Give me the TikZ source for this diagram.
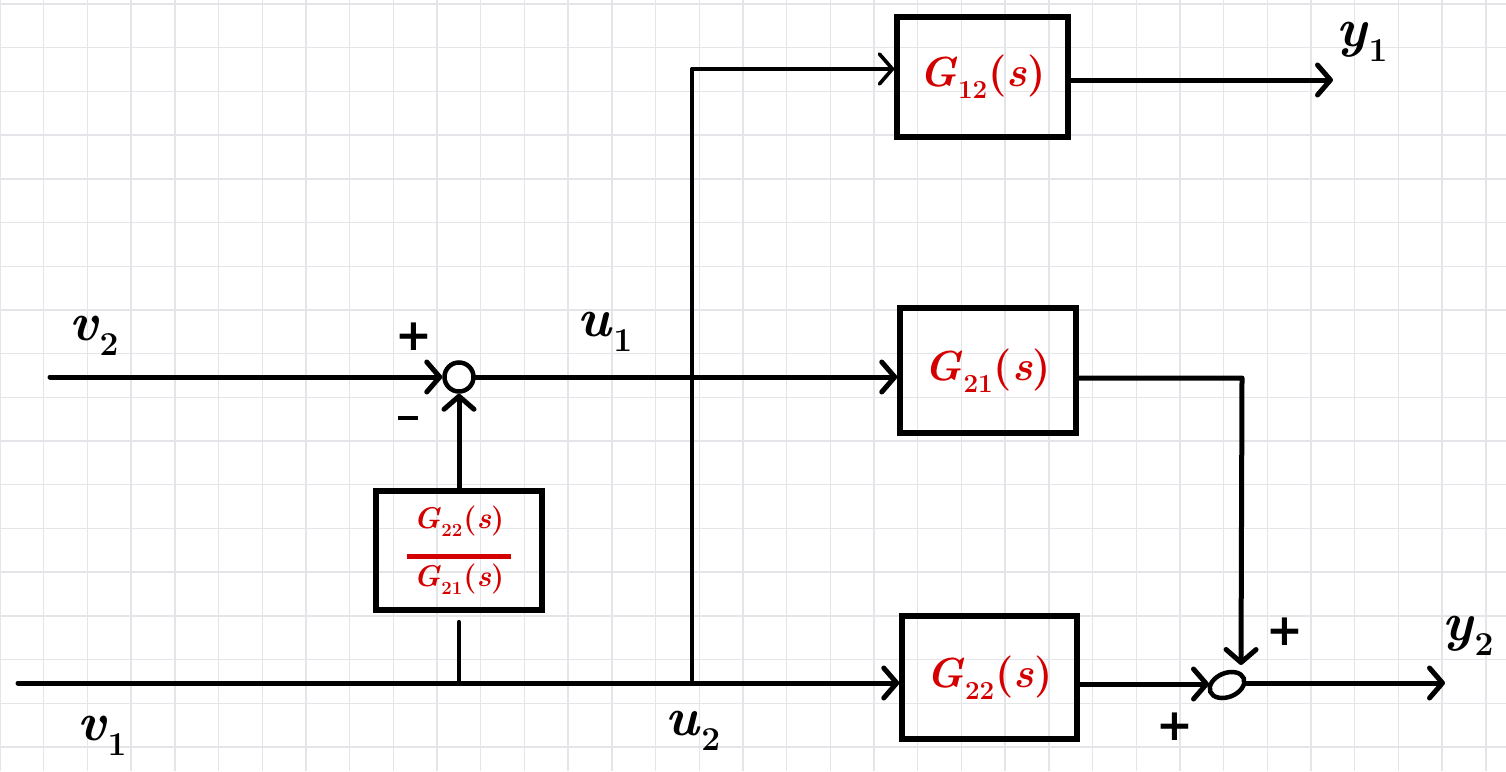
\documentclass[tikz,border=0pt]{standalone}
\usepackage{graphicx}
\usepackage{fontspec}
\newfontfamily\signfont{DejaVu Sans}
\usetikzlibrary{arrows.meta,shapes.geometric,calc}
\definecolor{gridc}{HTML}{E3E5E9}
\definecolor{redink}{HTML}{D40000}
\newcommand\subs[1]{\raisebox{-0.28em}{\scalebox{0.62}{#1}}}
\newcommand\Gtf[1]{\textit{G}\kern0.5pt\subs{#1}\kern1pt(\textit{s})}
\begin{document}
\begin{tikzpicture}[x=1pt,y=-1pt,
  gridline/.style={draw=gridc, line width=1.4pt},
  wire/.style={line width=5pt, line cap=round, line join=round},
  thinwire/.style={line width=3.6pt, line cap=round, line join=round},
  arr/.style={-{Straight Barb[length=13pt,width=30pt,line cap=round,line join=round]}},
  blk/.style={draw, rectangle, line width=5.5pt, inner sep=0pt},
  sumj/.style={draw, circle, line width=4.5pt, inner sep=0pt, minimum size=29pt},
  gtext/.style={text=redink, font=\fontsize{42}{44}\selectfont\bfseries},
  lbl/.style={font=\fontsize{54}{58}\selectfont\bfseries, inner sep=0pt},
  sgn/.style={font=\signfont\bfseries\fontsize{44}{46}\selectfont, inner sep=0pt}]
\fill[white] (0,0) rectangle (1506,771);
\useasboundingbox (0,0) rectangle (1506,771);
% background grid
\foreach \i in {0,...,34} \draw[gridline] ({\i*43.7},0) -- ({\i*43.7},771);
\foreach \j in {0,...,17} \draw[gridline] (0,{4+\j*43.7}) -- (1506,{4+\j*43.7});

% blocks
\node[blk, minimum width=171pt, minimum height=120pt, gtext] (g12) at (982.5,77) {\Gtf{12}};
\node[blk, minimum width=176pt, minimum height=125pt, gtext] (g21) at (988,370.5) {\Gtf{21}};
\node[blk, minimum width=175pt, minimum height=123pt, gtext] (g22) at (989.5,677.5) {\Gtf{22}};
\node[blk, minimum width=166pt, minimum height=119pt, text=redink, align=center,
      font=\fontsize{30}{32}\selectfont\bfseries] (gff) at (459,550.5)
  {\Gtf{22}\\[-2pt]\rule{104pt}{4.5pt}\\[-4pt]\Gtf{21}};

% summing junctions
\node[sumj] (sum1) at (459,377) {};
\node[draw, ellipse, line width=4.5pt, inner sep=0pt, minimum width=36pt, minimum height=24pt, rotate=22] (sum2) at (1227,685) {};

% coordinates
\coordinate (v2in) at (50,377);
\coordinate (v1in) at (18,683);
\coordinate (b2) at (692,680);
\coordinate (c12) at (692,69);
\coordinate (y1end) at (1333,80);
\coordinate (c21) at (1242,378);
\coordinate (s2top) at (1241,665);
\coordinate (s2left) at (1209,684);
\coordinate (y2end) at (1445,683);

% connectors
\draw[wire,arr] (v2in) -- (sum1.west);
\draw[wire,arr] (gff.north) -- (sum1.south);
\draw[wire,arr] (sum1.east) -- (sum1.east -| g21.west);
\draw[wire,arr] (v1in) -- (v1in -| g22.west);
\draw[thinwire] (gff.south |- v1in) -- ($(gff.south)+(0,9)$);
\draw[thinwire] (b2) -- (c12);
\draw[thinwire,arr] (c12) -- (c12 -| g12.west);
\draw[wire,arr] (y1end -| g12.east) -- (y1end);
\draw[wire,arr] (c21 -| g21.east) -- (c21) -- (s2top);
\draw[wire,arr] (s2left -| g22.east) -- (s2left);
\draw[wire,arr] (y2end -| sum2.east) -- (y2end);

% labels
\node[lbl] (lv2) at (94,336) {\textit{v}\subs{2}};
\node[lbl] (lv1) at (102,736) {\textit{v}\subs{1}};
\node[lbl] (lu1) at (605,332) {\textit{u}\subs{1}};
\node[lbl] (lu2) at (693,731) {\textit{u}\subs{2}};
\node[lbl] (ly1) at (1362,42) {\textit{y}\subs{1}};
\node[lbl] (ly2) at (1468,636) {\textit{y}\subs{2}};

% signs
\node[sgn] (p1) at (414,337) {+};
\node[sgn] (m1) at (408,418) {\rule{20pt}{4.5pt}};
\node[sgn] (p2) at (1285,632) {+};
\node[sgn] (p3) at (1175,727) {+};
\end{tikzpicture}
\end{document}
